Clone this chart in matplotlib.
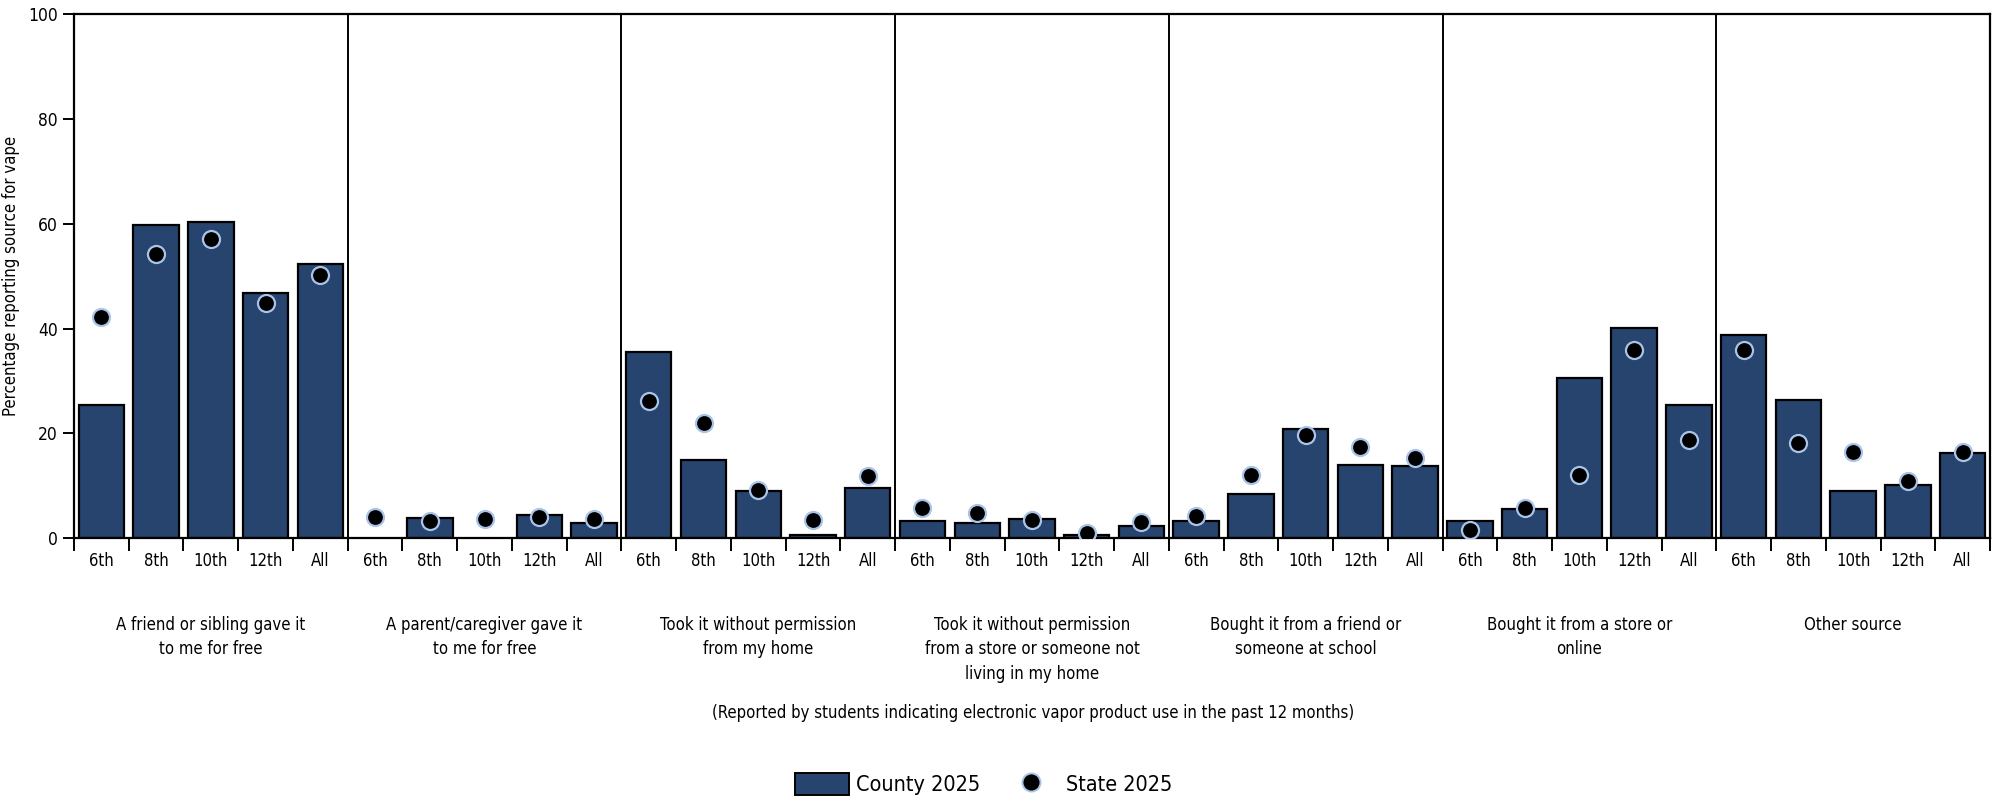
"""Sources of vape by grade: county bars vs state dots."""
import numpy as np
import matplotlib
matplotlib.use('Agg')
from matplotlib import pyplot as plt
from matplotlib.patches import Patch
from matplotlib.lines import Line2D

plt.rcParams['font.family'] = ['DejaVu Sans']
plt.rcParams['font.stretch'] = 'condensed'

grades = ['6th', '8th', '10th', '12th', 'All']
sources = ['A friend or sibling gave it\nto me for free',
           'A parent/caregiver gave it\nto me for free',
           'Took it without permission\nfrom my home',
           'Took it without permission\nfrom a store or someone not\nliving in my home',
           'Bought it from a friend or\nsomeone at school',
           'Bought it from a store or\nonline',
           'Other source']

# county values, one list per source (nan = not reported)
county_friend = [25.5, 59.7, 60.4, 46.8, 52.3]
county_parent = [np.nan, 3.9, np.nan, 4.5, 2.9]
county_home = [35.5, 15.0, 9.1, 0.6, 9.5]
county_store_other = [3.2, 2.9, 3.6, 0.7, 2.3]
county_school = [3.2, 8.5, 20.8, 14.0, 13.7]
county_store_online = [3.3, 5.5, 30.6, 40.1, 25.4]
county_other = [38.8, 26.4, 9.1, 10.1, 16.3]

# state values
state_friend = [42.2, 54.3, 57.1, 44.9, 50.3]
state_parent = [4.1, 3.3, 3.7, 4.1, 3.7]
state_home = [26.1, 21.9, 9.3, 3.5, 11.9]
state_store_other = [5.7, 4.8, 3.4, 1.1, 3.1]
state_school = [4.2, 12.1, 19.7, 17.4, 15.4]
state_store_online = [1.6, 5.8, 12.0, 36.0, 18.8]
state_other = [36.0, 18.1, 16.5, 11.0, 16.5]

county = [county_friend, county_parent, county_home, county_store_other,
          county_school, county_store_online, county_other]
state = [state_friend, state_parent, state_home, state_store_other,
         state_school, state_store_online, state_other]

bar_color = '#26446e'
dot_edge = '#a9c4e8'

fig = plt.figure(figsize=(19.99, 8.01), dpi=100)
ax = fig.add_axes([0.037, 0.328, 0.9585, 0.6545])

n_grades = len(grades)
for p, (cvals, svals) in enumerate(zip(county, state)):
    xs = p * n_grades + np.arange(n_grades) + 0.5
    ax.bar(xs, cvals, width=0.83, color=bar_color, edgecolor='black',
           linewidth=1.6, zorder=2)
    ax.scatter(xs, svals, s=150, color='black', edgecolors=dot_edge,
               linewidths=1.6, zorder=3)
    if p > 0:
        ax.axvline(p * n_grades, color='black', linewidth=1.4, zorder=1)
    ax.annotate(sources[p], xy=((p + 0.5) * n_grades, 0),
                xycoords=('data', 'axes fraction'),
                xytext=(0, -56), textcoords='offset points',
                ha='center', va='top', fontsize=12, linespacing=1.45)

total = len(sources) * n_grades
ax.set_xlim(0, total)
ax.set_ylim(0, 100)

ax.set_xticks(np.arange(total) + 0.5)
ax.set_xticklabels(grades * len(sources), fontsize=12)
ax.tick_params(axis='x', which='major', length=0, pad=10)
ax.set_xticks(np.arange(total + 1), minor=True)
ax.tick_params(axis='x', which='minor', length=9, width=1.4, direction='out')

ax.set_yticks(np.arange(0, 101, 20))
ax.tick_params(axis='y', labelsize=12.5, length=8, width=1.4)
ax.set_ylabel('Percentage reporting source for vape', fontsize=12, labelpad=6)

for spine in ax.spines.values():
    spine.set_linewidth(1.6)

fig.text(0.517, 0.11,
         '(Reported by students indicating electronic vapor product use in the past 12 months)',
         ha='center', va='center', fontsize=12)

handles = [Patch(facecolor=bar_color, edgecolor='black', linewidth=1.4),
           Line2D([], [], linestyle='none', marker='o', markersize=13,
                  markerfacecolor='black', markeredgecolor=dot_edge,
                  markeredgewidth=1.4)]
fig.legend(handles, ['County 2025', 'State 2025'], loc='center',
           bbox_to_anchor=(0.492, 0.021), ncol=2, frameon=False,
           fontsize=15.5, handlelength=2.5, handleheight=1.2,
           columnspacing=1.1, handletextpad=0.35)

fig.savefig('out.png', dpi=100)
